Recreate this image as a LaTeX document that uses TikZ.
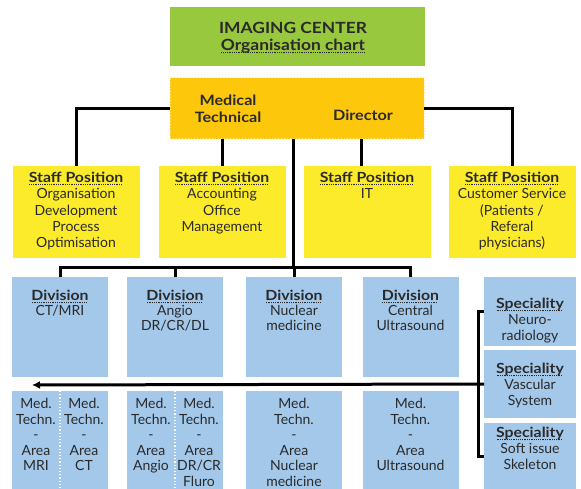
\documentclass[tikz,border=0pt]{standalone}
\usepackage{fontspec}
\setmainfont{Lato}[BoldFeatures={FakeStretch=1.13}]
\usetikzlibrary{arrows.meta}
\definecolor{cgreen}{HTML}{97C83D}
\definecolor{cgold}{HTML}{FDC70C}
\definecolor{cborder}{HTML}{FFE98C}
\definecolor{cyellow}{HTML}{FCEB2A}
\definecolor{cblue}{HTML}{A3C8EA}
\definecolor{ctext}{HTML}{2A2A2A}
\newsavebox\dulbox
\newcommand{\dul}[1]{\sbox\dulbox{#1}\rlap{\raisebox{-2.8pt}{\hbox to \wd\dulbox{\leaders\hbox to 1.8pt{\hss\rule{1pt}{1pt}\hss}\hfill}}}\usebox\dulbox}
\begin{document}
\begin{tikzpicture}[x=1pt,y=-1pt,
  box/.style={inner sep=0pt, outer sep=0pt, draw=none},
  txt/.style={text=ctext, align=center, inner sep=0pt, anchor=north,
    font=\fontsize{14}{16.3}\selectfont},
  conn/.style={line width=3pt, black},
  divline/.style={white, line width=1.2pt, dotted}]
\useasboundingbox (0,0) rectangle (581,489);
% title
\node[box, fill=cgreen, minimum width=255pt, minimum height=59pt] (title) at (297.5,36.5) {};
\node[txt, font=\bfseries\fontsize{15.4}{16.5}\selectfont] (titlet) at (293,22.5) {IMAGING CENTER\\\dul{Organisation chart}};
% director
\node[box, fill=cgold, draw=cborder, dotted, line width=1pt, minimum width=254pt, minimum height=61pt] (dir) at (297,108.5) {};
\node[txt, font=\bfseries\fontsize{14.3}{17}\selectfont] (dirt1) at (228,95) {Medical\\Technical};
\node[txt, font=\bfseries\fontsize{14.3}{17}\selectfont] (dirt2) at (363,110) {Director};
% staff
\foreach \n/\x in {s1/76,s2/222,s3/367,s4/512}{
  \node[box, fill=cyellow, minimum width=127pt, minimum height=92pt] (\n) at (\x,212) {};
}
\node[txt] (s1t) at (76,172) {\textbf{\dul{Staff Position}}\\Organisation\\Development\\Process\\Optimisation};
\node[txt] (s2t) at (222,172) {\textbf{\dul{Staff Position}}\\Accounting\\Office\\Management};
\node[txt] (s3t) at (367,172) {\textbf{\dul{Staff Position}}\\IT};
\node[txt] (s4t) at (512,172) {\textbf{\dul{Staff Position}}\\Customer Service\\(Patients /\\Referal\\physicians)};
% divisions
\foreach \n/\x in {d1/60,d2/175,d3/294,d4/410.5}{
  \node[box, fill=cblue, minimum width=96pt, minimum height=100pt] (\n) at (\x,327) {};
}
\tikzset{dt/.style={txt, font=\fontsize{14}{15}\selectfont}}
\node[dt] (d1t) at (60,290) {\textbf{\dul{Division}}\\CT/MRI};
\node[dt] (d2t) at (175,290) {\textbf{\dul{Division}}\\Angio\\DR/CR/DL};
\node[dt] (d3t) at (294,290) {\textbf{\dul{Division}}\\Nuclear\\medicine};
\node[dt] (d4t) at (410.5,290) {\textbf{\dul{Division}}\\Central\\Ultrasound};
% specialities
\node[box, fill=cblue, minimum width=92pt, minimum height=69pt] (sp1) at (530,311.5) {};
\node[box, fill=cblue, minimum width=92pt, minimum height=68pt] (sp2) at (530,384) {};
\node[box, fill=cblue, minimum width=92pt, minimum height=66pt] (sp3) at (530,456) {};
\tikzset{spt/.style={txt, font=\fontsize{14}{16}\selectfont}}
\node[spt] (sp1t) at (530,298) {\textbf{\dul{Speciality}}\\Neuro-\\radiology};
\node[spt] (sp2t) at (530,363) {\textbf{\dul{Speciality}}\\Vascular\\System};
\node[spt] (sp3t) at (530,427) {\textbf{\dul{Speciality}}\\Soft issue\\Skeleton};
% med techn
\foreach \n/\x in {m1/60,m2/175,m3/294,m4/410.5}{
  \node[box, fill=cblue, minimum width=96pt, minimum height=98pt] (\n) at (\x,440) {};
}
\draw[divline] (m1.north) -- (m1.south);
\draw[divline] (m2.north) -- (m2.south);
\tikzset{mt/.style={txt, font=\fontsize{14}{15.5}\selectfont}}
\node[mt] (m1a) at (36,398) {Med.\\Techn.\\-\\Area\\MRI};
\node[mt] (m1b) at (84,398) {Med.\\Techn.\\-\\Area\\CT};
\node[mt] (m2a) at (151,398) {Med.\\Techn.\\-\\Area\\Angio};
\node[mt] (m2b) at (199,398) {Med.\\Techn.\\-\\Area\\DR/CR\\Fluro};
\node[mt] (m3t) at (294,398) {Med.\\Techn.\\-\\Area\\Nuclear\\medicine};
\node[mt] (m4t) at (410.5,398) {Med.\\Techn.\\-\\Area\\Ultrasound};
% connectors
\coordinate (c3) at (361,166);
\coordinate (bus) at (293,267);
\coordinate (arrowend) at (32,385);
\draw[conn] (dir.west) -| (s1.north);
\draw[conn] (dir.east) -| (s4.north);
\draw[conn] (dir.south -| s2.north) -- (s2.north);
\draw[conn] (dir.south -| c3) -- (c3);
\draw[conn] (dir.south -| bus) -- (bus);
\draw[conn] (d1.north) |- (bus) -| (d4.north);
\draw[conn] (d2.north) -- (d2.north |- bus);
\draw[conn] (d3.north) -- (d3.north |- bus);
\draw[conn] (sp1.west) -- ++(-6,0) |- (sp3.west);
\draw[conn, -{Latex[length=8pt,width=8pt]}] (sp2.west) -- (arrowend);
\end{tikzpicture}
\end{document}
